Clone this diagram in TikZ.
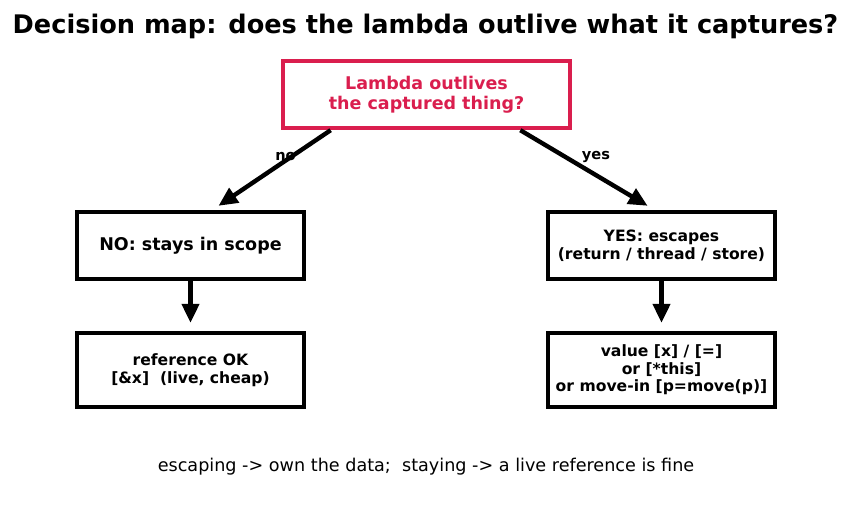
\documentclass[tikz,border=0pt]{standalone}
\usepackage{fontspec}
\setmainfont{DejaVu Sans}
\usetikzlibrary{arrows.meta,calc}
\definecolor{qred}{RGB}{218,30,78}
\tikzset{
  boxstyle/.style={draw=black, line width=4.4pt, fill=white, inner sep=0pt, align=center},
  arrowstyle/.style={line width=4.4pt, -{Triangle[length=19pt,width=17pt]}},
  lbl/.style={font=\bfseries\fontsize{14.6}{17}\selectfont}
}
\begin{document}
\begin{tikzpicture}[x=1pt,y=-1pt]
\useasboundingbox (0,0) rectangle (851,512);
\node (title) at (425.5,26) {\bfseries\fontsize{25.6}{30}\selectfont Decision map: does the lambda outlive what it captures?};
\node[boxstyle, draw=qred, text=qred, minimum width=287pt, minimum height=67pt, font=\bfseries\fontsize{17.5}{20.5}\selectfont] (q) at (426.5,94.5) {Lambda outlives\\the captured thing?};
\node[boxstyle, minimum width=227pt, minimum height=67pt, font=\bfseries\fontsize{17.5}{20}\selectfont] (no) at (190.5,245.5) {NO: stays in scope};
\node[boxstyle, minimum width=227pt, minimum height=67pt, font=\bfseries\fontsize{15.6}{18.5}\selectfont] (yes) at (661.5,245.5) {YES: escapes\\(return / thread / store)};
\node[boxstyle, minimum width=227pt, minimum height=74pt, font=\bfseries\fontsize{15.6}{17.5}\selectfont] (ref) at (190.5,370) {reference OK\\{[\&x]}\ \ (live, cheap)};
\node[boxstyle, minimum width=227pt, minimum height=74pt, font=\bfseries\fontsize{15.6}{17.5}\selectfont] (val) at (661.5,370) {value [x] / [=]\\or [*this]\\or move-in [p=move(p)]};
\coordinate (qa) at ($(q.south west)!0.171!(q.south east)$);
\coordinate (qb) at ($(q.south west)!0.822!(q.south east)$);
\coordinate (na) at ($(no.north west)!0.621!(no.north east)+(0,-4)$);
\coordinate (yb) at ($(yes.north west)!0.44!(yes.north east)+(0,-4)$);
\draw[arrowstyle] (qa) -- (na);
\draw[arrowstyle] (qb) -- (yb);
\draw[arrowstyle] (no.south) -- ($(ref.north)+(0,-8)$);
\draw[arrowstyle] (yes.south) -- ($(val.north)+(0,-8)$);
\node[lbl] (nolbl) at (285.5,157) {no};
\node[lbl] (yeslbl) at (596,157) {yes};
\node (foot) at (426,467) {\fontsize{17.6}{21}\selectfont escaping -> own the data;\ \ staying -> a live reference is fine};
\end{tikzpicture}
\end{document}
